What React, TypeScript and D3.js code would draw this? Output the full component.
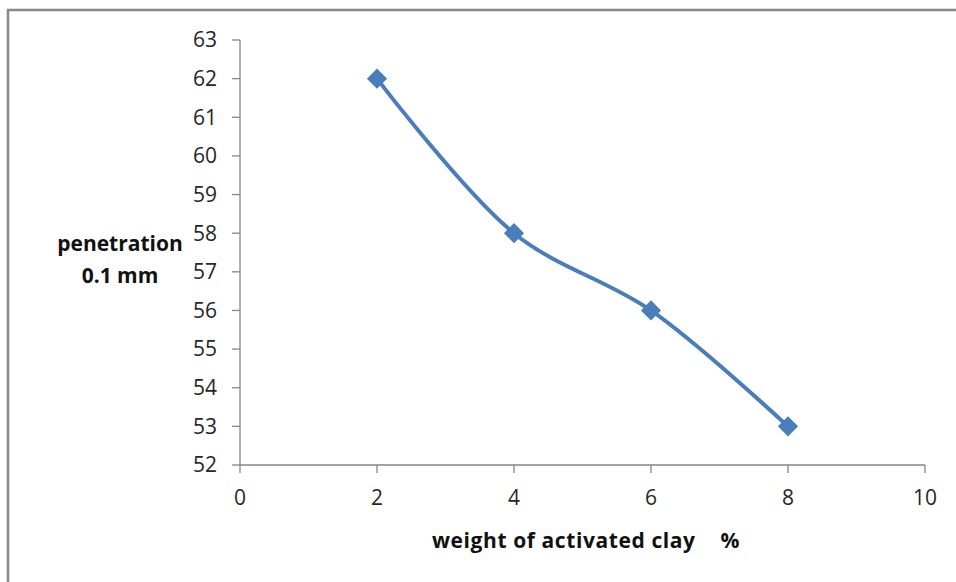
import * as d3 from "d3";

const weights = [2, 4, 6, 8];
const penetration = [62, 58, 56, 53];
const xTicks = [0, 2, 4, 6, 8, 10];
const yTicks = [52, 53, 54, 55, 56, 57, 58, 59, 60, 61, 62, 63];

const App = () => {
  const width = 956;
  const height = 582;

  const x = d3.scaleLinear().domain([0, 10]).range([240, 925]);
  const y = d3.scaleLinear().domain([52, 63]).range([465, 40]);

  const points: [number, number][] = weights.map((w, i) => [w, penetration[i]]);
  const line = d3
    .line<[number, number]>()
    .x((d) => x(d[0]))
    .y((d) => y(d[1]))
    .curve(d3.curveCatmullRom.alpha(0.5));

  const diamond = d3.symbol().type(d3.symbolDiamond2).size(260)();

  const axisColor = "#868686";
  const font = "'Open Sans', 'Noto Sans', sans-serif";

  return (
    <svg
      width={width}
      height={height}
      style={{ position: "absolute", left: 0, top: 0 }}
      fontFamily={font}
    >
      <rect x={0} y={0} width={width} height={height} fill="#fff" />
      <rect x={8} y={10} width={960} height={600} fill="none" stroke="#888" strokeWidth={2.5} />

      {/* y axis */}
      <line x1={x(0)} x2={x(0)} y1={y(52)} y2={y(63)} stroke={axisColor} strokeWidth={1.3} />
      {yTicks.map((t) => (
        <g key={t}>
          <line x1={x(0) - 8} x2={x(0)} y1={y(t)} y2={y(t)} stroke={axisColor} strokeWidth={1.3} />
          <text x={217} y={y(t)} dy="0.35em" textAnchor="end" fontSize={21} fill="#262626">
            {t}
          </text>
        </g>
      ))}

      {/* x axis */}
      <line x1={x(0)} x2={x(10)} y1={y(52)} y2={y(52)} stroke={axisColor} strokeWidth={1.3} />
      {xTicks.map((t) => (
        <g key={t}>
          <line x1={x(t)} x2={x(t)} y1={y(52)} y2={y(52) + 8} stroke={axisColor} strokeWidth={1.3} />
          <text x={x(t)} y={498} dy="0.35em" textAnchor="middle" fontSize={21} fill="#262626">
            {t}
          </text>
        </g>
      ))}

      {/* axis titles */}
      <text x={120} y={244} dy="0.35em" textAnchor="middle" fontSize={21} fontWeight="bold" fill="#111">
        penetration
      </text>
      <text x={120} y={276} dy="0.35em" textAnchor="middle" fontSize={21} fontWeight="bold" fill="#111">
        0.1 mm
      </text>
      <text x={432} y={541} dy="0.35em" textAnchor="start" fontSize={21} fontWeight="bold" fill="#111" textLength={263}>
        weight of activated clay
      </text>
      <text x={730} y={541} dy="0.35em" textAnchor="middle" fontSize={21} fontWeight="bold" fill="#111">
        %
      </text>

      {/* series */}
      <path d={line(points) ?? ""} fill="none" stroke="#4A7EBB" strokeWidth={4} />
      {points.map((p, i) => (
        <path key={i} d={diamond ?? ""} transform={`translate(${x(p[0])},${y(p[1])})`} fill="#4A7EBB" />
      ))}
    </svg>
  );
};

export default App;
